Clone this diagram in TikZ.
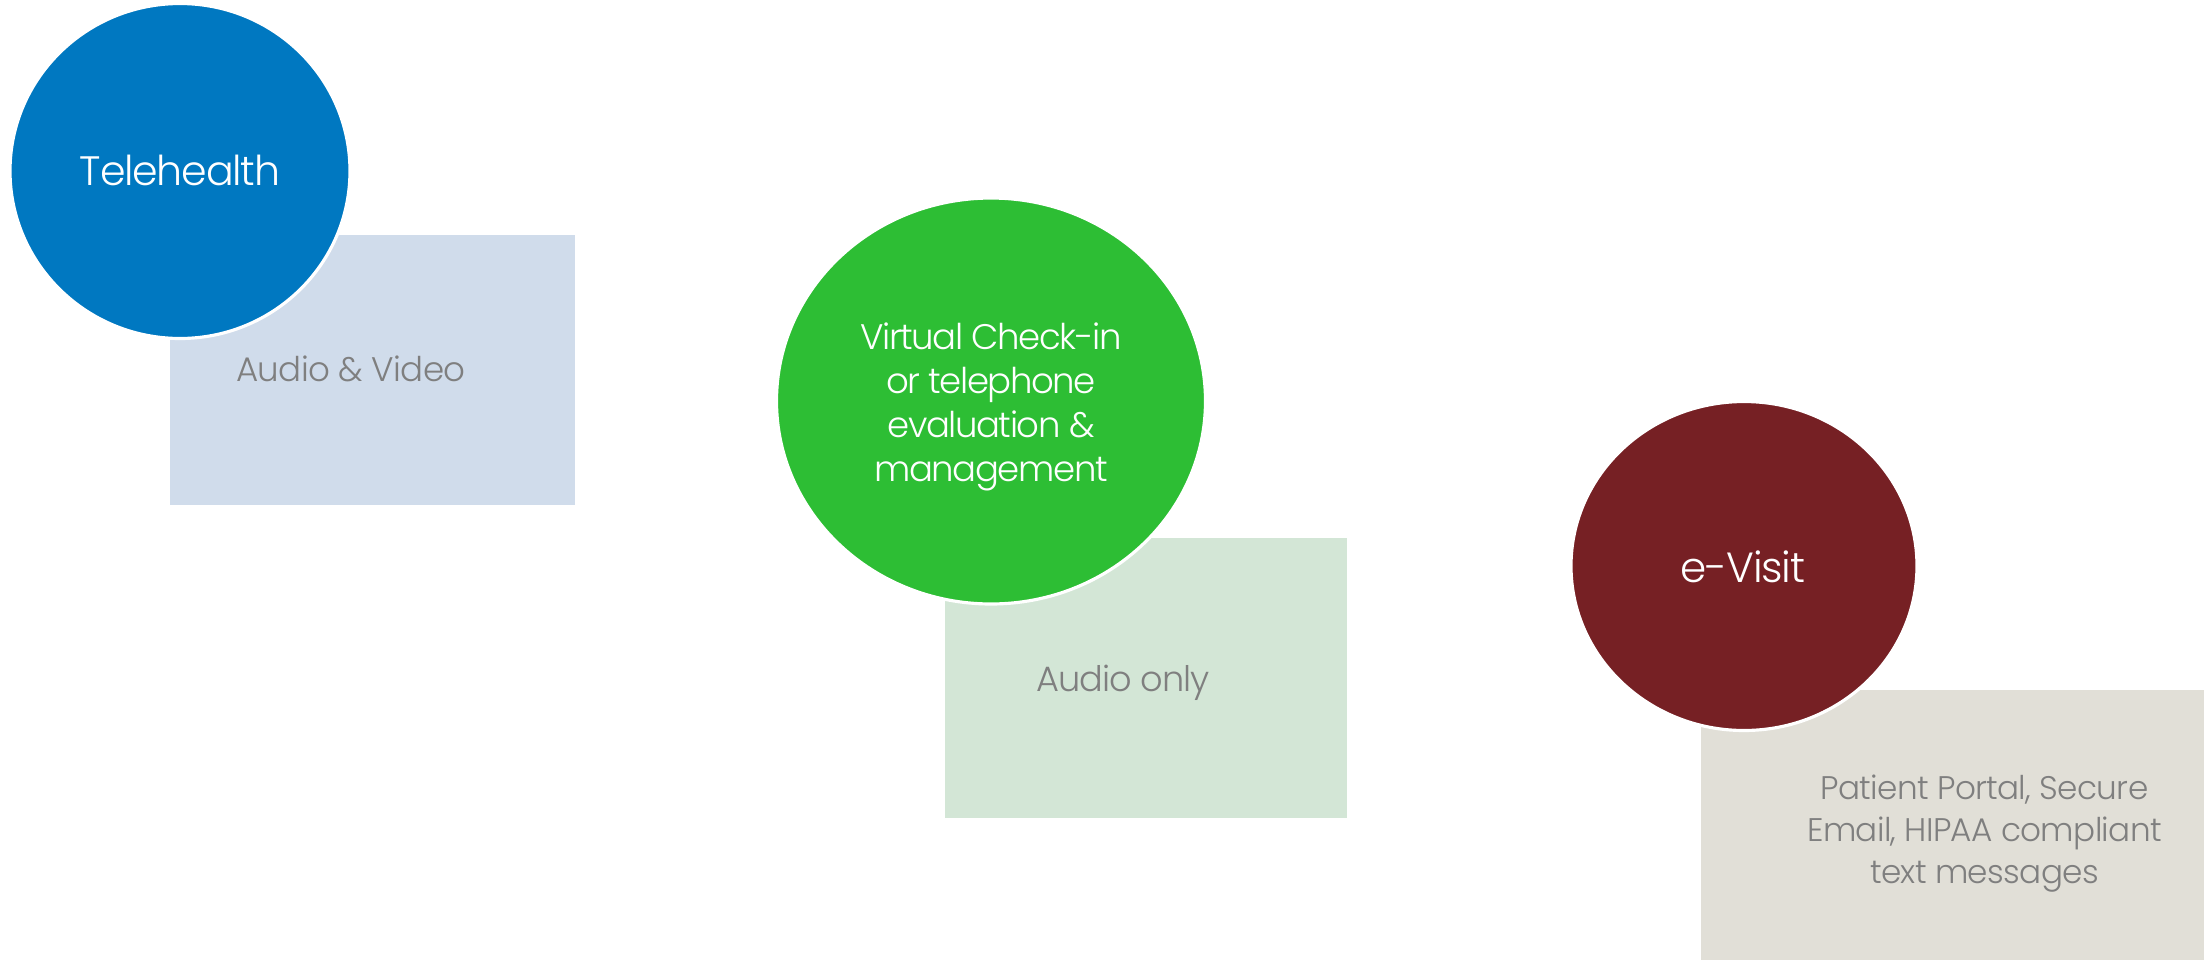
\documentclass[tikz,border=0pt]{standalone}
\usepackage{fontspec}
\setmainfont{Poppins}[UprightFont=* Light]
\usepackage{xcolor}
\usetikzlibrary{shapes.geometric,positioning}

\definecolor{tele}{RGB}{0,120,193}
\definecolor{virt}{RGB}{45,190,52}
\definecolor{evis}{RGB}{118,32,36}
\definecolor{teleb}{RGB}{208,220,235}
\definecolor{virtb}{RGB}{211,230,214}
\definecolor{evisb}{RGB}{225,223,215}
\definecolor{testo}{RGB}{127,127,127}

% corpo e spaziatura lettere
\newcommand{\corpo}[3]{\fontsize{#1}{#2}\selectfont\addfontfeatures{LetterSpace=#3}}

\tikzset{
  bolla/.style={ellipse,draw=white,line width=0.9pt,inner sep=0pt},
  titolo/.style={text=white,align=center,inner sep=0pt},
  riquadro/.style={rectangle,inner sep=0pt},
  didascalia/.style={text=testo,align=center,inner sep=0pt}
}

\begin{document}
\begin{tikzpicture}
\useasboundingbox (0,0) rectangle (22.04,9.6);

% riquadri
\node[riquadro,fill=teleb,minimum width=4.05cm,minimum height=2.7cm] at (3.725,5.9) (avbox) {};
\node[riquadro,fill=virtb,minimum width=4.02cm,minimum height=2.8cm] at (11.46,2.82) (aobox) {};
\node[riquadro,fill=evisb,minimum width=5.03cm,minimum height=2.7cm] at (19.525,1.35) (ptbox) {};

\node[didascalia,font=\corpo{9.7}{12}{-2}] at ([xshift=-2.15mm,yshift=0.1mm]avbox.center) (avtxt) {Audio \& Video};
\node[didascalia,font=\corpo{10}{12}{-3}] at ([xshift=-2.3mm,yshift=-0.5mm]aobox.center) (aotxt) {Audio only};
\node[didascalia,font=\corpo{9.3}{11.9}{-2}] at ([xshift=3.2mm,yshift=-0.85mm]ptbox.center) (pttxt)
  {Patient Portal, Secure\\Email, HIPAA compliant\\text messages};

% bolle
\node[bolla,fill=tele,minimum width=3.4cm,minimum height=3.35cm] at (1.8,7.89) (tele) {};
\node[bolla,fill=virt,minimum width=4.29cm,minimum height=4.06cm] at (9.91,5.59) (virt) {};
\node[bolla,fill=evis,minimum width=3.46cm,minimum height=3.29cm] at (17.44,3.94) (evis) {};

\node[titolo,font=\corpo{11.7}{14}{-3}] at ([yshift=0.1mm]tele.center) (teletxt) {Telehealth};
\node[titolo,font=\corpo{10.1}{12.5}{-4}] at ([yshift=-0.6mm]virt.center) (virttxt)
  {Virtual Check-in\\or telephone\\evaluation \&\\management};
\node[titolo,font=\corpo{12}{14}{-3}] at ([xshift=-0.1mm,yshift=-0.1mm]evis.center) (evistxt) {e-Visit};
\end{tikzpicture}
\end{document}
